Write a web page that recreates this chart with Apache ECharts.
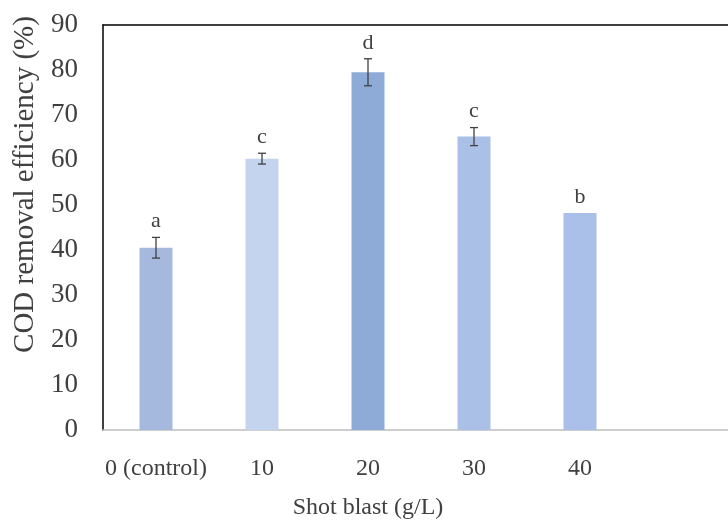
<!DOCTYPE html>
<html>
<head>
<meta charset="utf-8">
<script src="https://cdn.jsdelivr.net/npm/echarts@6/dist/echarts.min.js"></script>
<style>html,body{margin:0;padding:0;background:#fff;}#c{width:728px;height:521px;}</style>
</head>
<body>
<div id="c"></div>
<script>
var categories = ['0 (control)', '10', '20', '30', '40'];
var means = [40.5, 60.3, 79.5, 65.2, 48.2];
var errors = [2.3, 1.2, 3.0, 2.0, 0];
var letters = ['a', 'c', 'd', 'c', 'b'];
var yTicks = [0, 10, 20, 30, 40, 50, 60, 70, 80, 90];

var barColors = ['#a5b8de', '#c4d4ef', '#8dabd6', '#aac0e7', '#abc0e9'];
var textColor = '#404040';
var font = '"Liberation Serif", "Times New Roman", serif';

var chart = echarts.init(document.getElementById('c'), null, {renderer: 'canvas'});

var errData = means.map(function (m, i) { return [i, m, errors[i]]; });

chart.setOption({
  backgroundColor: '#fff',
  animation: false,
  grid: [
    {left: 103, top: 25, width: 530, height: 405, outerBoundsMode: 'none', containLabel: false},
    {left: 103, top: 25, right: 0, height: 405, outerBoundsMode: 'none', containLabel: false}
  ],
  xAxis: [
    {
      type: 'category', gridIndex: 0, data: categories,
      axisLine: {show: false},
      axisTick: {show: false},
      axisLabel: {color: textColor, fontSize: 24, fontFamily: font, margin: 27, interval: 0},
      name: 'Shot blast (g/L)', nameLocation: 'middle', nameGap: 66, nameMoveOverlap: false,
      nameTextStyle: {color: textColor, fontSize: 24, fontFamily: font}
    },
    {
      type: 'value', gridIndex: 1, position: 'bottom', min: 0, max: 1,
      axisLine: {show: true, onZero: false, lineStyle: {color: '#bfbfbf', width: 1.5}},
      axisTick: {show: false}, axisLabel: {show: false}, splitLine: {show: false}
    },
    {
      type: 'value', gridIndex: 1, position: 'top', min: 0, max: 1,
      axisLine: {show: true, onZero: false, lineStyle: {color: '#000', width: 1.5}},
      axisTick: {show: false}, axisLabel: {show: false}, splitLine: {show: false}
    }
  ],
  yAxis: [
    {
      type: 'value', gridIndex: 0, min: yTicks[0], max: yTicks[yTicks.length - 1], interval: 10,
      axisLine: {show: true, lineStyle: {color: '#000', width: 1.5}},
      axisTick: {show: false},
      splitLine: {show: false},
      axisLabel: {color: textColor, fontSize: 27, fontFamily: font, margin: 25},
      name: 'COD removal efficiency (%)', nameLocation: 'middle', nameGap: 63, nameMoveOverlap: false,
      nameTextStyle: {color: textColor, fontSize: 29, fontFamily: font, padding: [0, 0, 0, 86]}
    },
    {
      type: 'value', gridIndex: 1, min: 0, max: 1, show: false
    }
  ],
  series: [
    {
      type: 'bar', xAxisIndex: 0, yAxisIndex: 0, barWidth: 33,
      data: means.map(function (v, i) { return {value: v, itemStyle: {color: barColors[i]}}; })
    },
    {
      type: 'custom', xAxisIndex: 0, yAxisIndex: 0, z: 5,
      data: errData,
      renderItem: function (params, api) {
        var i = api.value(0), m = api.value(1), e = api.value(2);
        var top = api.coord([i, m + e]);
        var bot = api.coord([i, m - e]);
        var cap = 4;
        var children = [];
        if (e > 0) {
          var ls = {stroke: textColor, lineWidth: 1.3};
          children.push({type: 'line', shape: {x1: top[0], y1: top[1], x2: bot[0], y2: bot[1]}, style: ls});
          children.push({type: 'line', shape: {x1: top[0] - cap, y1: top[1], x2: top[0] + cap, y2: top[1]}, style: ls});
          children.push({type: 'line', shape: {x1: bot[0] - cap, y1: bot[1], x2: bot[0] + cap, y2: bot[1]}, style: ls});
        }
        children.push({
          type: 'text',
          style: {
            text: letters[params.dataIndex], x: top[0], y: top[1] - 16,
            align: 'center', verticalAlign: 'middle',
            fill: textColor, font: '22px ' + font
          }
        });
        return {type: 'group', children: children};
      }
    }
  ]
});
</script>
</body>
</html>
